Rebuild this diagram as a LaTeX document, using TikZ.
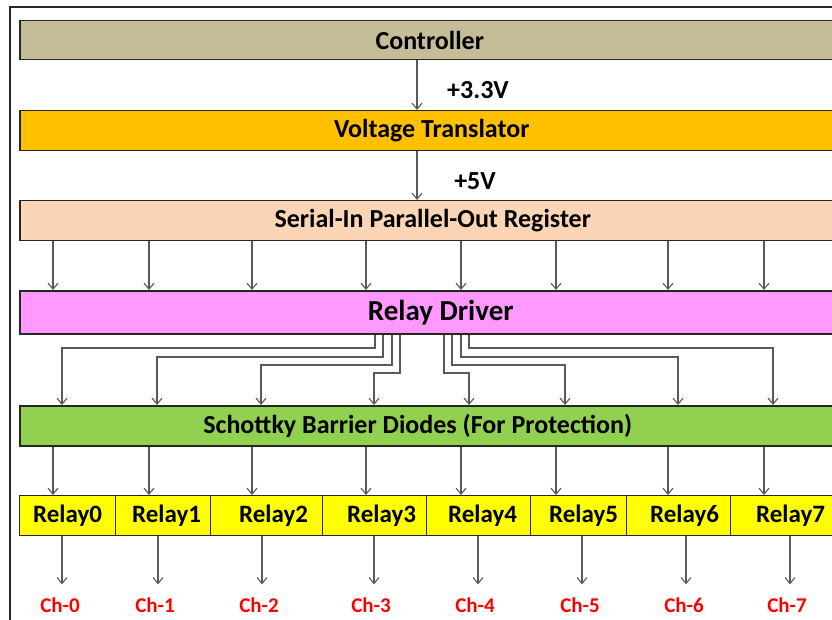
\documentclass[tikz,border=0pt]{standalone}
\usepackage{fontspec}
\setmainfont{Carlito}
\usetikzlibrary{arrows.meta}
\definecolor{ctrlc}{HTML}{C4BD97}
\definecolor{vtc}{HTML}{FFC000}
\definecolor{sipoc}{HTML}{FBD5B5}
\definecolor{rdc}{HTML}{FF99FF}
\definecolor{sbdc}{HTML}{92D050}
\definecolor{relc}{HTML}{FFFF00}
\definecolor{connc}{HTML}{595959}
\definecolor{chc}{HTML}{FF0000}
\tikzset{
  bar/.style={draw=black!85, line width=1.5pt, inner sep=0pt, anchor=north west, font=\bfseries\fontsize{26}{30}\selectfont},
  relcell/.style={draw=black!85, line width=1.2pt, fill=relc, inner sep=0pt, anchor=north west, minimum height=40pt, font=\bfseries\fontsize{25}{28}\selectfont},
  arr/.style={draw=connc, line width=1.1pt, -{Straight Barb[length=6pt,width=10pt,line width=1.1pt]}},
  chlab/.style={text=chc, inner sep=0pt, font=\bfseries\fontsize{21}{24}\selectfont},
  vlab/.style={inner sep=0pt, font=\bfseries\fontsize{26}{30}\selectfont},
  frame/.style={draw=black!85, line width=1.8pt}
}
\begin{document}
\begin{tikzpicture}[x=1pt,y=-1pt]
\useasboundingbox (0,0) rectangle (832,620);
\clip (0,0) rectangle (832,620);
\draw[frame] (10,640) -- (10,7) -- (860,7);
% bars
\node[bar, fill=ctrlc, minimum width=820pt, minimum height=39pt] (ctrl) at (19,20) {Controller};
\node[bar, fill=vtc, minimum width=824pt, minimum height=40pt] (vt) at (19,110) {\raisebox{-1pt}{Voltage Translator}};
\node[bar, fill=sipoc, minimum width=826pt, minimum height=40pt] (sipo) at (19,200) {\raisebox{-1pt}{Serial-In Parallel-Out Register}};
\node[bar, fill=rdc, minimum width=842pt, minimum height=43pt, font=\bfseries\fontsize{29}{32}\selectfont] (rd) at (19,290) {Relay Driver};
\node[bar, fill=sbdc, minimum width=818pt, minimum height=40pt] (sbd) at (19,405) {\kern-22pt Schottky Barrier Diodes (For Protection)};
% relay cells
\node[relcell, minimum width=96pt] (r0) at (19,495) {Relay0};
\node[relcell, minimum width=95pt] (r1) at (115,495) {\kern7pt Relay1};
\node[relcell, minimum width=112pt] (r2) at (210,495) {\kern14pt Relay2};
\node[relcell, minimum width=104pt] (r3) at (322,495) {\kern14pt Relay3};
\node[relcell, minimum width=104pt] (r4) at (426,495) {\kern8pt Relay4};
\node[relcell, minimum width=96pt] (r5) at (530,495) {\kern10pt Relay5};
\node[relcell, minimum width=104pt] (r6) at (626,495) {\kern12pt Relay6};
\node[relcell, minimum width=120pt] (r7) at (730,495) {Relay7};
% voltage labels
\node[vlab] (v33) at (478,90) {+3.3V};
\node[vlab] (v5) at (475,181) {+5V};
\draw[arr] (417,0 |- ctrl.south) -- (417,0 |- vt.north);
\draw[arr] (417,0 |- vt.south) -- (417,0 |- sipo.north);
% sipo -> rd and sbd -> relays
\foreach \x in {53,149,252,366,461,556,668,764} {
  \draw[arr] (\x,0 |- sipo.south) -- (\x,0 |- rd.north);
}
\draw[arr] (53,0 |- sbd.south) -- (53,0 |- r0.north);
\draw[arr] (149,0 |- sbd.south) -- (149,0 |- r1.north);
\draw[arr] (252,0 |- sbd.south) -- (252,0 |- r2.north);
\draw[arr] (366,0 |- sbd.south) -- (366,0 |- r3.north);
\draw[arr] (461,0 |- sbd.south) -- (461,0 |- r4.north);
\draw[arr] (556,0 |- sbd.south) -- (556,0 |- r5.north);
\draw[arr] (668,0 |- sbd.south) -- (668,0 |- r6.north);
\draw[arr] (764,0 |- sbd.south) -- (764,0 |- r7.north);
% rd -> sbd routing
\draw[arr] (375,0 |- rd.south) -- (375,348) -- (62,348) -- (62,0 |- sbd.north);
\draw[arr] (383,0 |- rd.south) -- (383,357) -- (157,357) -- (157,0 |- sbd.north);
\draw[arr] (392,0 |- rd.south) -- (392,365) -- (261,365) -- (261,0 |- sbd.north);
\draw[arr] (400,0 |- rd.south) -- (400,373) -- (374,373) -- (374,0 |- sbd.north);
\draw[arr] (444,0 |- rd.south) -- (444,373) -- (469,373) -- (469,0 |- sbd.north);
\draw[arr] (452,0 |- rd.south) -- (452,365) -- (565,365) -- (565,0 |- sbd.north);
\draw[arr] (461,0 |- rd.south) -- (461,357) -- (678,357) -- (678,0 |- sbd.north);
\draw[arr] (469,0 |- rd.south) -- (469,348) -- (773,348) -- (773,0 |- sbd.north);
% channel labels
\node[chlab] (c0) at (60,605) {Ch-0};
\node[chlab] (c1) at (155,605) {Ch-1};
\node[chlab] (c2) at (259,605) {Ch-2};
\node[chlab] (c3) at (371,605) {Ch-3};
\node[chlab] (c4) at (475,605) {Ch-4};
\node[chlab] (c5) at (580,605) {Ch-5};
\node[chlab] (c6) at (684,605) {Ch-6};
\node[chlab] (c7) at (787,605) {Ch-7};
\draw[arr, shorten >=13pt] (62,0 |- r0.south) -- (62,0 |- c0.north);
\draw[arr, shorten >=13pt] (158,0 |- r1.south) -- (158,0 |- c1.north);
\draw[arr, shorten >=13pt] (262,0 |- r2.south) -- (262,0 |- c2.north);
\draw[arr, shorten >=13pt] (374,0 |- r3.south) -- (374,0 |- c3.north);
\draw[arr, shorten >=13pt] (478,0 |- r4.south) -- (478,0 |- c4.north);
\draw[arr, shorten >=13pt] (582,0 |- r5.south) -- (582,0 |- c5.north);
\draw[arr, shorten >=13pt] (686,0 |- r6.south) -- (686,0 |- c6.north);
\draw[arr, shorten >=13pt] (790,0 |- r7.south) -- (790,0 |- c7.north);
\end{tikzpicture}
\end{document}
